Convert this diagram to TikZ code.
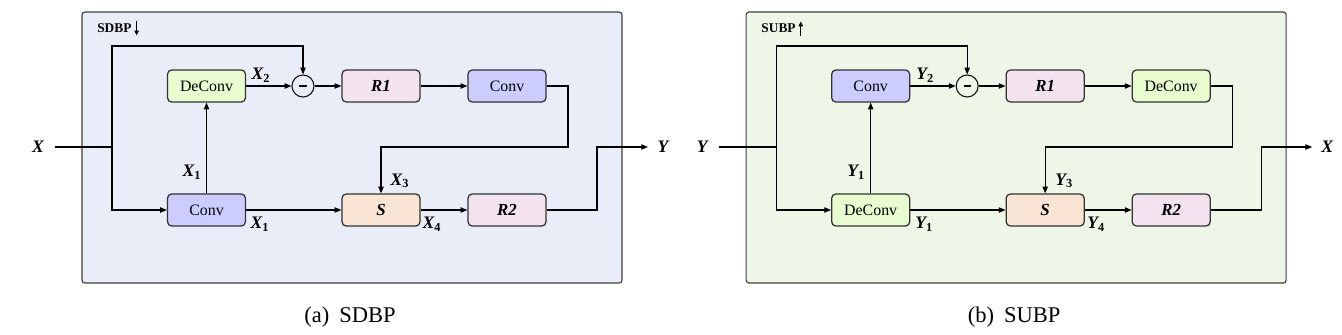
\documentclass[tikz,border=0pt]{standalone}
\usepackage{fontspec}
\setmainfont{Liberation Serif}
\usetikzlibrary{arrows.meta}

\definecolor{panelA}{HTML}{E9EDF8}
\definecolor{panelB}{HTML}{EEF6E8}
\definecolor{deconvfill}{HTML}{E8FCCF}
\definecolor{convfill}{HTML}{CCCCFF}
\definecolor{rfill}{HTML}{F2E3EF}
\definecolor{sfill}{HTML}{FAE5D5}

\newcommand{\vlab}[2]{\textbf{\textit{#1}\textsubscript{\upshape #2}}}

\tikzset{
  blk/.style={draw=black!80, line width=0.9pt, rounded corners=3pt, minimum width=1.95cm, minimum height=0.8cm, inner sep=0pt, font=\fontsize{11.3}{13}\selectfont},
  deconvblk/.style={blk, fill=deconvfill},
  convblk/.style={blk, fill=convfill},
  rblk/.style={blk, fill=rfill, font=\fontsize{12}{14}\selectfont\bfseries\itshape},
  sblk/.style={blk, fill=sfill, font=\fontsize{12}{14}\selectfont\bfseries\itshape},
  minus/.style={circle, draw=black!90, line width=0.8pt, minimum size=0.55cm, inner sep=0pt},
  bar/.style={line width=1.3pt},
  wire/.style={line width=0.8pt},
  arr/.style={wire, -{Triangle[length=4.8pt,width=3.8pt]}},
  tagarr/.style={line width=0.8pt, -{Triangle[length=3.5pt,width=3.2pt]}},
  sig/.style={font=\fontsize{12.5}{14}\selectfont\bfseries\itshape, inner sep=0pt},
  panel/.style={draw=black!75, line width=0.8pt, rounded corners=2pt},
  tag/.style={font=\fontsize{9.5}{11}\selectfont\bfseries, anchor=west, inner sep=0pt},
  captxt/.style={font=\fontsize{16}{18}\selectfont},
}

\begin{document}
\begin{tikzpicture}[x=0.025cm, y=-0.025cm]
\useasboundingbox (0,0) rectangle (1342,335);

% (a) SDBP
\draw[panel, fill=panelA] (82,12) rectangle (622,283);
\node[tag] (atag) at (97,28.5) {SDBP};
\draw[tagarr] ([xshift=3.5pt,yshift=5pt]atag.east) -- ([xshift=3.5pt,yshift=-5pt]atag.east);

\node[deconvblk] (adec) at (206.5,86) {DeConv};
\node[minus] (amin) at (303,86) {};
\draw[bar] ([xshift=-2.6pt]amin.center) -- ([xshift=2.6pt]amin.center);
\node[rblk] (ar1) at (381,86) {R1};
\node[convblk] (aconv2) at (507,86) {Conv};
\node[convblk] (aconv1) at (206.5,210) {Conv};
\node[sblk] (as) at (381,210) {S};
\node[rblk] (ar2) at (507,210) {R2};

\coordinate (ain) at (55,147);
\coordinate (asplit) at (112,147);
\coordinate (atop) at (112,46);
\coordinate (aturn) at (568,147);
\coordinate (arise) at (597,147);
\coordinate (aout) at (648,147);

\node[sig] (ax) at (38,147) {X};
\node[sig] (ay) at (663,147) {Y};
\node[sig] (ax2) at (261,75) {\vlab{X}{2}};
\node[sig] (ax1v) at (192,172) {\vlab{X}{1}};
\node[sig] (ax1h) at (260,224) {\vlab{X}{1}};
\node[sig] (ax3) at (400,181) {\vlab{X}{3}};
\node[sig] (ax4) at (432,224) {\vlab{X}{4}};

\draw[wire] (ain) -- (asplit);
\draw[arr] (asplit) -- (atop) -| (amin.north);
\draw[arr] (asplit) |- (aconv1.west);
\draw[arr] (aconv1.north) -- (adec.south);
\draw[arr] (adec.east) -- (amin.west);
\draw[arr] (amin.east) -- (ar1.west);
\draw[arr] (ar1.east) -- (aconv2.west);
\draw[arr] (aconv2.east) -| (aturn) -| (as.north);
\draw[arr] (aconv1.east) -- (as.west);
\draw[arr] (as.east) -- (ar2.west);
\draw[arr] (ar2.east) -| (arise) -- (aout);

\node[captxt] (acap) at (350,317) {(a)\hspace{0.45em}SDBP};

% (b) SUBP
\begin{scope}[xshift=16.6cm]
\draw[panel, fill=panelB] (82,12) rectangle (622,283);
\node[tag] (btag) at (97,28.5) {SUBP};
\draw[tagarr] ([xshift=3.5pt,yshift=-5pt]btag.east) -- ([xshift=3.5pt,yshift=5pt]btag.east);

\node[convblk] (bconv) at (206.5,86) {Conv};
\node[minus] (bmin) at (303,86) {};
\draw[bar] ([xshift=-2.6pt]bmin.center) -- ([xshift=2.6pt]bmin.center);
\node[rblk] (br1) at (381,86) {R1};
\node[deconvblk] (bdec2) at (507,86) {DeConv};
\node[deconvblk] (bdec1) at (206.5,210) {DeConv};
\node[sblk] (bs) at (381,210) {S};
\node[rblk] (br2) at (507,210) {R2};

\coordinate (bin) at (55,147);
\coordinate (bsplit) at (112,147);
\coordinate (btop) at (112,46);
\coordinate (bturn) at (568,147);
\coordinate (brise) at (597,147);
\coordinate (bout) at (648,147);

\node[sig] (by) at (38,147) {Y};
\node[sig] (bx) at (663,147) {X};
\node[sig] (by2) at (261,75) {\vlab{Y}{2}};
\node[sig] (by1v) at (192,172) {\vlab{Y}{1}};
\node[sig] (by1h) at (260,224) {\vlab{Y}{1}};
\node[sig] (by3) at (400,181) {\vlab{Y}{3}};
\node[sig] (by4) at (432,224) {\vlab{Y}{4}};

\draw[wire] (bin) -- (bsplit);
\draw[arr] (bsplit) -- (btop) -| (bmin.north);
\draw[arr] (bsplit) |- (bdec1.west);
\draw[arr] (bdec1.north) -- (bconv.south);
\draw[arr] (bconv.east) -- (bmin.west);
\draw[arr] (bmin.east) -- (br1.west);
\draw[arr] (br1.east) -- (bdec2.west);
\draw[arr] (bdec2.east) -| (bturn) -| (bs.north);
\draw[arr] (bdec1.east) -- (bs.west);
\draw[arr] (bs.east) -- (br2.west);
\draw[arr] (br2.east) -| (brise) -- (bout);

\node[captxt] (bcap) at (350,317) {(b)\hspace{0.45em}SUBP};
\end{scope}
\end{tikzpicture}
\end{document}
